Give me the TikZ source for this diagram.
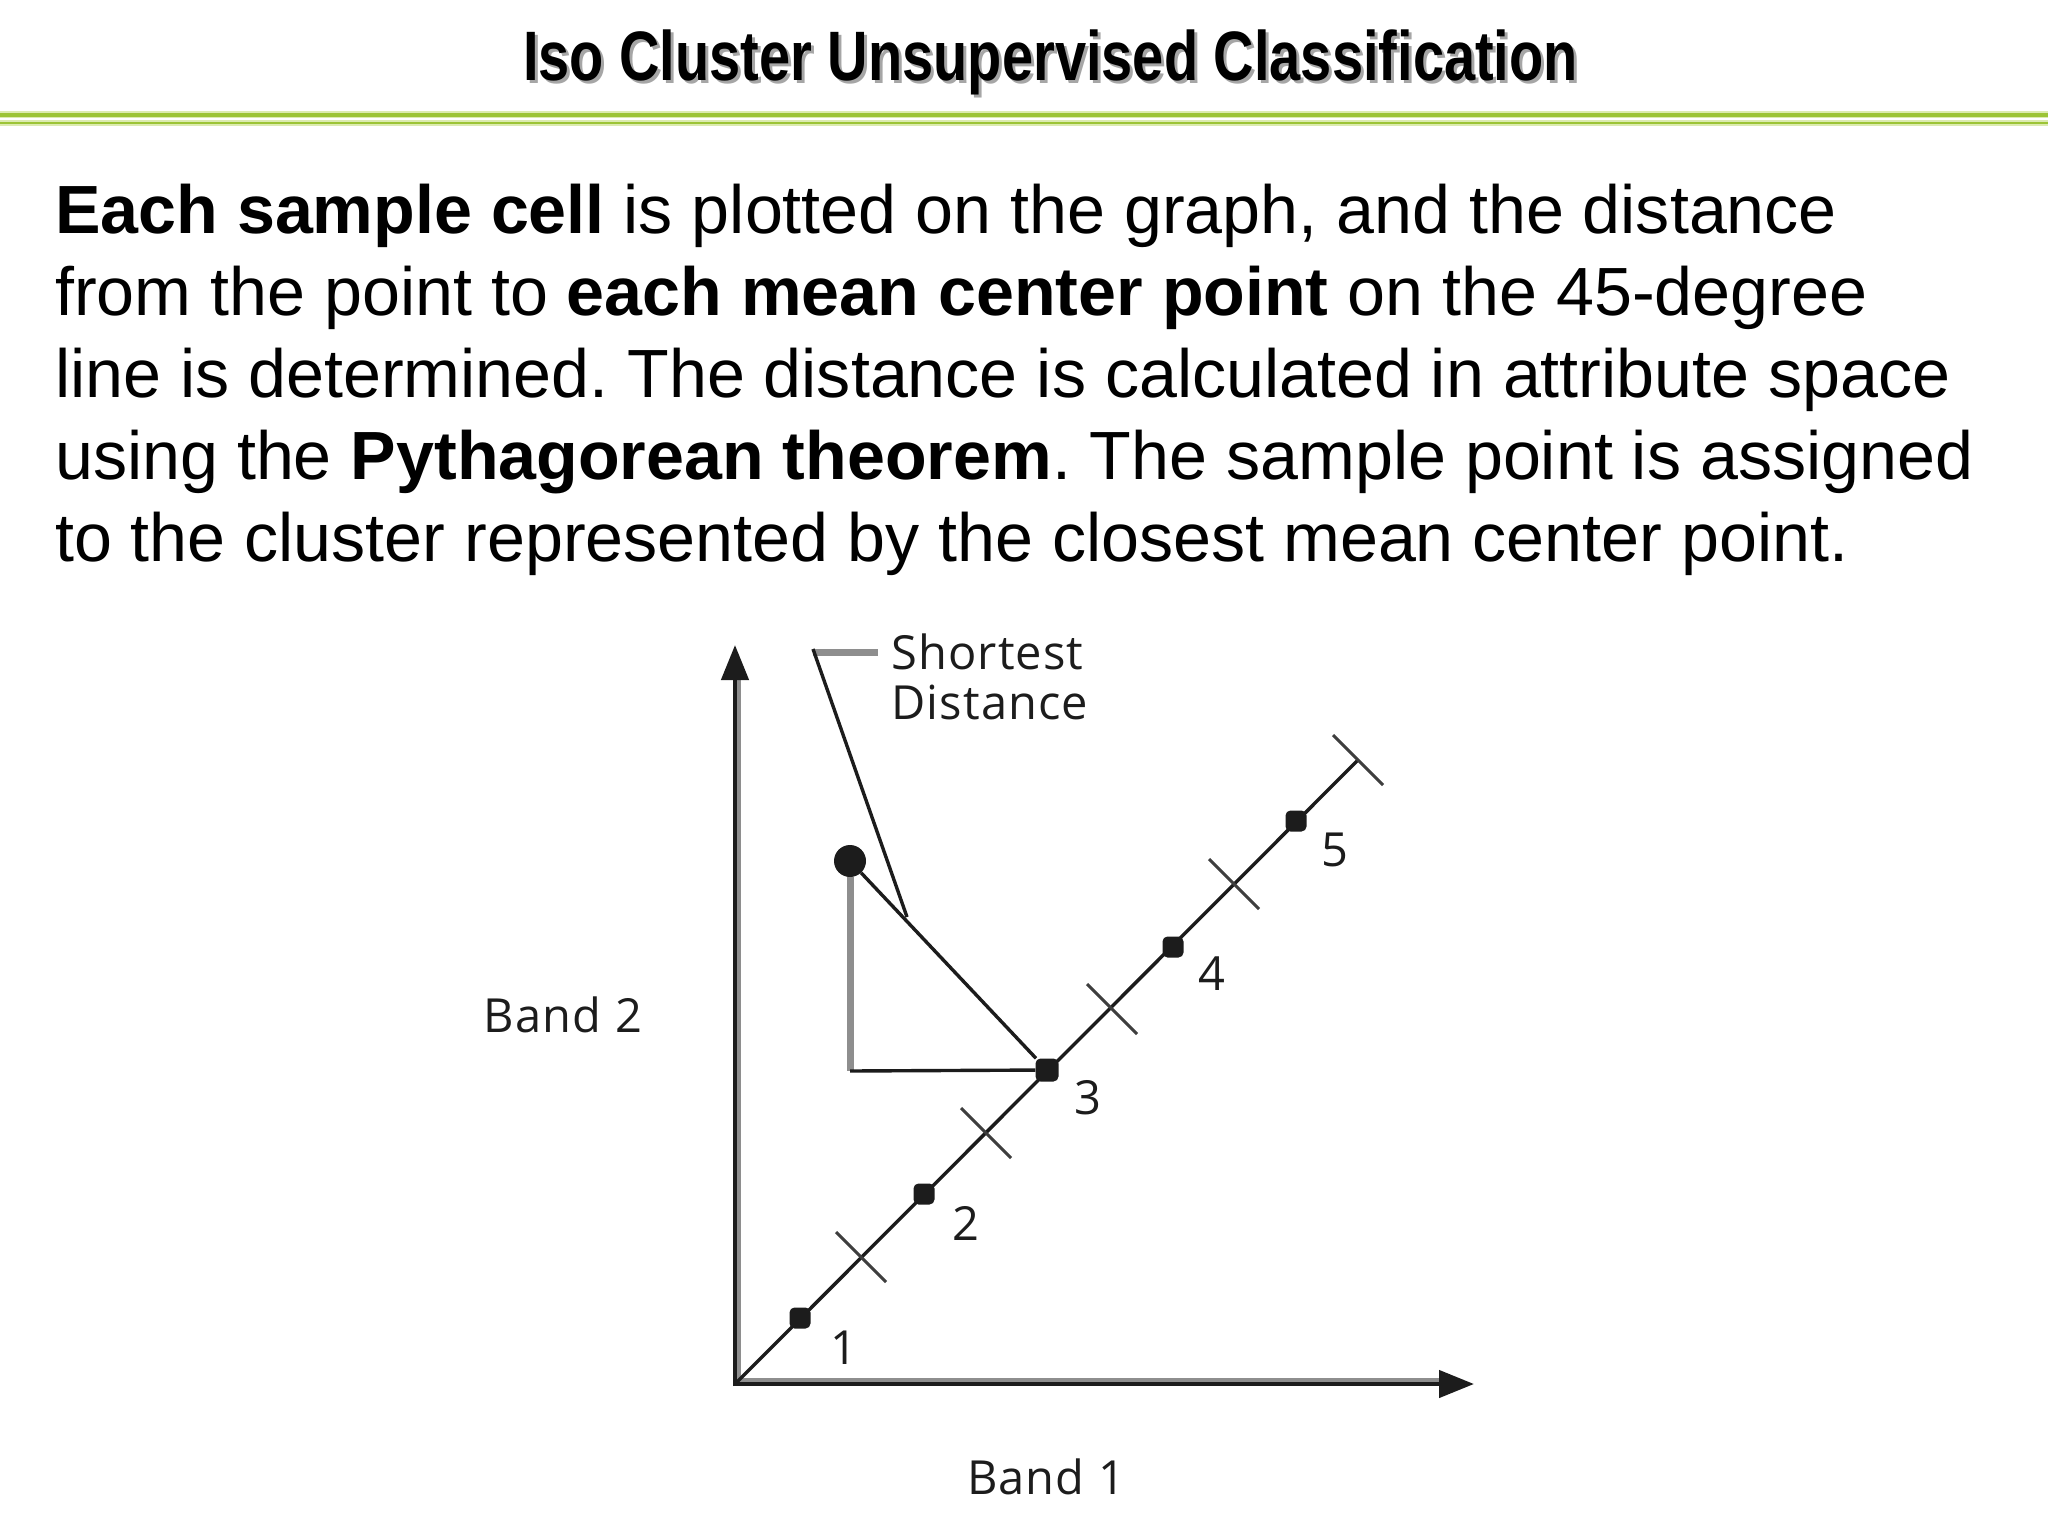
\documentclass[tikz,border=0pt]{standalone}
\usepackage{fontspec}
\setmainfont{Liberation Sans}
\newfontfamily\figfont[LetterSpace=2.5]{Open Sans}
\usetikzlibrary{arrows.meta}
\definecolor{rulegreen}{HTML}{9CC436}
\definecolor{rulehalo}{HTML}{DCEBB0}
\definecolor{ink}{HTML}{1C1C1C}
\definecolor{midgray}{HTML}{8E8E8E}
\tikzset{
  titletext/.style={inner sep=0pt,anchor=base,font=\fontsize{70}{70}\selectfont\bfseries},
  bodytext/.style={inner sep=0pt,anchor=north west,align=left,font=\fontsize{68.2}{82}\selectfont\frenchspacing,text=black},
  figtext/.style={inner sep=0pt,font=\fontsize{47}{50}\figfont,text=ink},
  dot/.style={rectangle,rounded corners=5pt,fill=ink,inner sep=0pt,minimum size=#1},
  bigdot/.style={circle,fill=ink,inner sep=0pt,minimum size=#1},
  thinline/.style={draw=ink,line width=3.4pt},
  crossline/.style={draw=ink!85,line width=3pt},
  axisline/.style={draw=ink,line width=4.5pt},
  axisshade/.style={draw=midgray,line width=4.5pt},
  greyline/.style={draw=midgray,line width=7pt},
  head/.style={-{Triangle[length=35pt,width=27pt,fill=ink]}}
}
\begin{document}
\begin{tikzpicture}[x=1pt,y=-1pt]
\useasboundingbox (0,0) rectangle (2048,1536);
% title
\node[titletext,text=black!35] (titleshadow) at (1053.5,83.5) {\scalebox{0.80}[1]{Iso Cluster Unsupervised Classification}};
\node[titletext,text=black] (title) at (1050.5,80.5) {\scalebox{0.80}[1]{Iso Cluster Unsupervised Classification}};
% rules
\draw[rulehalo,line width=7pt] (0,115) -- (2048,115);
\draw[rulegreen,line width=3.5pt] (0,115) -- (2048,115);
\draw[rulehalo,line width=6pt] (0,123) -- (2048,123);
\draw[rulegreen,line width=2.5pt] (0,123) -- (2048,123);
% body
\node[bodytext] (body) at (55,183.5) {\textbf{Each sample cell} is plotted on the graph, and the distance\\
from the point to \textbf{each mean center point} on the 45-degree\\
line is determined. The distance is calculated in attribute space\\
using the \textbf{Pythagorean theorem}. The sample point is assigned\\
to the cluster represented by the closest mean center point.};
% coordinates
\coordinate (origin) at (737,1382);
\coordinate (corner) at (735,1384);
\coordinate (ytip) at (735,645);
\coordinate (xtip) at (1474,1384);
\coordinate (diagend) at (1358,760);
\coordinate (x1) at (861,1257);
\coordinate (x2) at (986,1133);
\coordinate (x3) at (1112,1009);
\coordinate (x4) at (1234,884);
\coordinate (foot) at (850,1071);
\coordinate (bend) at (813,652);
\coordinate (leaderend) at (878,652);
\coordinate (touch) at (907,917);
% axes
\draw[axisshade] ([xshift=4pt]corner) -- ([xshift=4pt,yshift=-34pt]ytip);
\draw[axisshade] ([yshift=4pt]corner) -- ([xshift=-32pt,yshift=4pt]xtip);
\draw[axisline,head] ([yshift=-2pt]corner) -- (ytip);
\draw[axisline,head] ([xshift=-2pt]corner) -- (xtip);
% diagonal
\draw[thinline] (origin) -- (diagend);
\foreach \c in {x1,x2,x3,x4,diagend}
  \draw[crossline] ([shift={(-25,-25)}]\c) -- ([shift={(25,25)}]\c);
% dots
\node[dot=21pt] (n1) at (800,1318) {};
\node[dot=21pt] (n2) at (924,1194) {};
\node[dot=23pt] (n3) at (1047,1070) {};
\node[dot=21pt] (n4) at (1173,947) {};
\node[dot=21pt] (n5) at (1296,821) {};
\node[bigdot=32pt] (sample) at (850,861) {};
% triangle
\draw[greyline] (sample) -- (foot);
\draw[thinline] (foot) -- (n3);
\draw[thinline] (sample) -- (n3);
% leader
\draw[greyline] (bend) -- (leaderend);
\draw[thinline] ([yshift=3pt]bend) -- (touch);
% labels
\node[figtext,align=left,anchor=north west] (short) at (891,634) {Shortest\\Distance};
\node[figtext] (band2) at (563,1015) {Band 2};
\node[figtext] (band1) at (1046,1477) {Band 1};
\node[figtext] (l1) at (844,1348) {1};
\node[figtext] (l2) at (966,1223) {2};
\node[figtext] (l3) at (1088,1098) {3};
\node[figtext] (l4) at (1212,974) {4};
\node[figtext] (l5) at (1335,850) {5};
\end{tikzpicture}
\end{document}
